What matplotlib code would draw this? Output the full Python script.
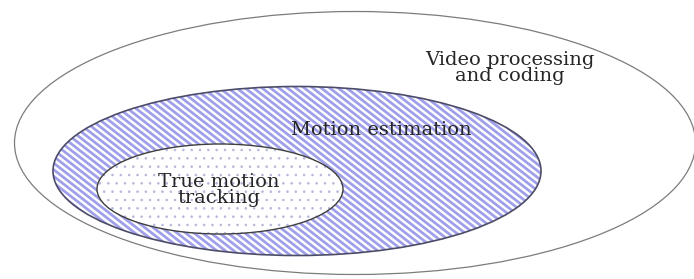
import numpy as np
import matplotlib.pyplot as plt
from matplotlib.patches import Ellipse

plt.rcParams['font.family'] = ['DejaVu Serif']
plt.rcParams['hatch.linewidth'] = 0.6

# nested sets, outer to inner
set_names = ["Video processing\nand coding", "Motion estimation", "True motion\ntracking"]

# geometry in pixel units: centre x, centre y, width, height
centres = [(355, 143), (297, 171), (220, 189)]
widths = [681, 488, 246]
heights = [263, 169, 90]
label_pos = [(510, 68), (381, 130), (219, 190)]

outline_colors = ['#7c7c7c', '#4c4c68', '#3e3e3e']
outline_widths = [0.9, 1.2, 1.0]

stripe_color = '#a0a0ea'
stripe_slope = 0.78
stripe_step = 6.6
dot_color = '#b4b8d8'

fig = plt.figure(figsize=(6.94, 2.79), dpi=100)
ax = fig.add_axes([0, 0, 1, 1])
ax.set_xlim(0, 694)
ax.set_ylim(279, 0)
ax.axis('off')

# outer set: plain outline
ax.add_patch(Ellipse(centres[0], widths[0], heights[0], facecolor='white',
                     edgecolor=outline_colors[0], linewidth=outline_widths[0], zorder=1))

# middle set: diagonal stripes clipped to the ellipse
mid = Ellipse(centres[1], widths[1], heights[1], facecolor='white', edgecolor='none', zorder=2)
ax.add_patch(mid)
xs = np.array([0, 694])
for c in np.arange(-420, 280, stripe_step):
    ln, = ax.plot(xs, stripe_slope * xs + c, color=stripe_color, lw=2.0,
                  solid_capstyle='butt', zorder=3)
    ln.set_clip_path(mid)
ax.add_patch(Ellipse(centres[1], widths[1], heights[1], facecolor='none',
                     edgecolor=outline_colors[1], linewidth=outline_widths[1], zorder=4))

# inner set: sparse dots
ax.add_patch(Ellipse(centres[2], widths[2], heights[2], facecolor='white', edgecolor='none', zorder=5))
ax.add_patch(Ellipse(centres[2], widths[2], heights[2], facecolor='none', edgecolor=dot_color,
                     linewidth=0, hatch='..', zorder=6))
ax.add_patch(Ellipse(centres[2], widths[2], heights[2], facecolor='none',
                     edgecolor=outline_colors[2], linewidth=outline_widths[2], zorder=7))

for i, name in enumerate(set_names):
    x, y = label_pos[i]
    ax.text(x, y, name, ha='center', va='center', fontsize=14, color='#262626',
            linespacing=0.82, zorder=20)

fig.savefig('out.png', dpi=100)
